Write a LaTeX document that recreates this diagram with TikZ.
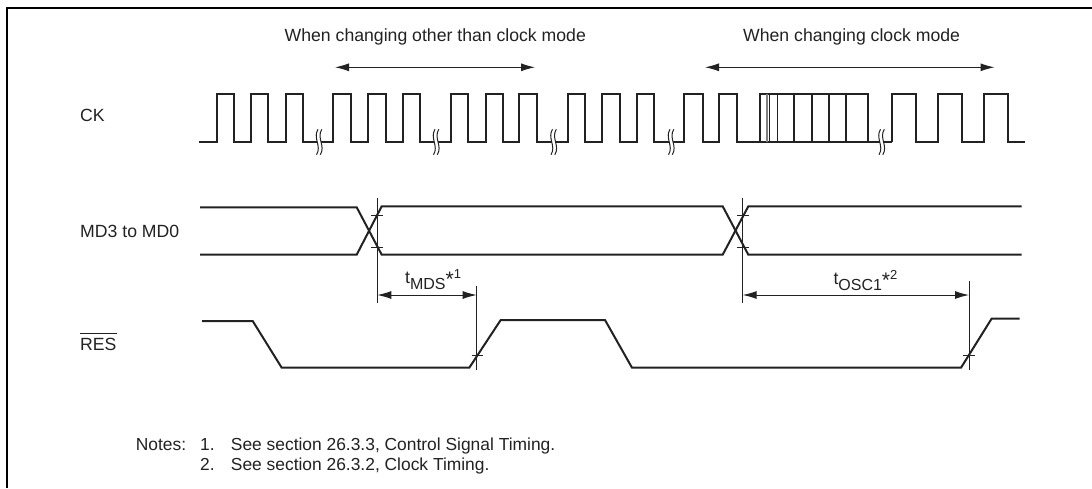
\documentclass[tikz,border=0pt]{standalone}
\usepackage{fontspec}
\setmainfont{Liberation Sans}
\usetikzlibrary{arrows.meta}
\definecolor{ink}{HTML}{222222}
\newcommand{\brkmark}[2]{%
  \fill[white] (#1+1,#2-12.7) .. controls (#1-4.5,#2-4) and (#1+5,#2+4) .. (#1-0.5,#2+12.7) -- ++(3.8,0) .. controls (#1+8.8,#2+4) and (#1-0.7,#2-4) .. (#1+4.8,#2-12.7) -- cycle;
  \draw[thinline] (#1+1,#2-12.7) .. controls (#1-4.5,#2-4) and (#1+5,#2+4) .. (#1-0.5,#2+12.7);
  \draw[thinline] (#1+4.8,#2-12.7) .. controls (#1-0.7,#2-4) and (#1+8.8,#2+4) .. (#1+3.3,#2+12.7);
}
\newcommand{\timelabel}[2]{t\raisebox{-6.3pt}{\fontsize{16}{17}\selectfont #1}\raisebox{-3pt}{\fontsize{21}{22}\selectfont *}\raisebox{4.5pt}{\fontsize{13}{14}\selectfont #2}}
\tikzset{
  x=1pt,y=-1pt,
  signal/.style={draw=ink,line width=2pt,line join=miter},
  thinline/.style={draw=ink,line width=1pt},
  dimline/.style={draw=ink,line width=1pt,{Latex[length=14pt,width=8pt]}-{Latex[length=14pt,width=8pt]}},
  label/.style={inner sep=0pt,anchor=base west,text=ink,font=\fontsize{17.65}{20}\selectfont},
  noteline/.style={label,font=\fontsize{17.4}{20}\selectfont},
}
\begin{document}
\begin{tikzpicture}
\useasboundingbox (0,0) rectangle (1092,488);
\fill[white] (0,0) rectangle (1092,488);
% frame (top and left only)
\draw[black,line width=2pt] (6.5,488) -- (6.5,7.5) -- (1092,7.5);

% headings
\node[label] (h1) at (284.5,41) {When changing other than clock mode};
\node[label] (h2) at (743,41) {When changing clock mode};
\coordinate (a1l) at (335,67.3); \coordinate (a1r) at (535,67.3);
\coordinate (a2l) at (705,67.3); \coordinate (a2r) at (994.5,67.3);
\draw[dimline] (a1l) -- (a1r);
\draw[dimline] (a2l) -- (a2r);

% signal labels
\node[label] (ck) at (80,121) {CK};
\node[label] (md) at (80,237) {MD3 to MD0};
\node[label] (res) at (80,350) {RES};
\draw[ink,line width=0.9pt] (res.north west |- 0,333.5) -- (res.north east |- 0,333.5);

% CK
\draw[signal] (199,142) -| (216.7,94) -| (233.7,142) -| (251,94) -| (268.3,142) -| (285.7,94) -| (303.3,142)
  -| (333.3,94) -| (351,142) -| (368.3,94) -| (385.7,142) -| (402.7,94) -| (420,142)
  -| (450.7,94) -| (468.3,142) -| (485.7,94) -| (502.7,142) -| (519.3,94) -| (537.3,142)
  -| (567.7,94) -| (585.3,142) -| (602.3,94) -| (620,142) -| (636.7,94) -| (654.3,142)
  -| (684.3,94) -| (702.7,142) -| (719.3,94) -| (737.3,142) -| (759.5,94) -- (868.3,94) |- (892.3,142);
\draw[signal] (892.3,142) |- (915.7,94) |- (938.3,142) |- (961.7,94) |- (984.3,142) |- (1007.7,94) |- (1025,142);
\draw[signal] (759.5,142) -- (868.3,142);
\foreach \vx/\vc in {767/gray,769.5/ink,777.5/ink,794.3/ink,811.7/ink,829.3/ink,846.3/ink}
  \draw[line width=1.8pt,draw=\vc] (\vx,94) -- (\vx,142);
\brkmark{317}{142}
\brkmark{434}{142}
\brkmark{551.5}{142}
\brkmark{669}{142}
\brkmark{879.5}{142}

% MD3 to MD0
\draw[signal] (200,207.3) -- (356.7,207.3) -- (381.7,254.7) -- (722.7,254.7) -- (748.3,206.3) -- (1021.7,206.3);
\draw[signal] (200,254.7) -- (356.7,254.7) -- (381.7,206.3) -- (722.7,206.3) -- (748.3,254.7) -- (1021.7,254.7);

% RES
\draw[signal] (202,321) -- (252.7,321) -- (281.7,367.7) -- (469.3,367.7) -- (500.7,320) -- (605,320) -- (632,367.7) -- (961,367.7) -- (991.7,318.5) -- (1019.5,318.5);

% timing verticals and ticks
\coordinate (v1t) at (377.3,198); \coordinate (v1b) at (377.3,303);
\coordinate (v2t) at (476.7,286); \coordinate (v2b) at (476.7,370);
\coordinate (v3t) at (742.7,198); \coordinate (v3b) at (742.7,303);
\coordinate (v4t) at (969,281);   \coordinate (v4b) at (969,370);
\draw[thinline] (v1t) -- (v1b);
\draw[thinline] (v2t) -- (v2b);
\draw[thinline] (v3t) -- (v3b);
\draw[thinline] (v4t) -- (v4b);
\draw[thinline] (371,215) -- (383,215) (371,247.5) -- (383,247.5);
\draw[thinline] (737,215) -- (749,215) (737,247.5) -- (749,247.5);
\draw[thinline] (471.5,355) -- (482.5,355);
\draw[thinline] (963,355) -- (975,355);
\coordinate (d1l) at (377.3,295); \coordinate (d1r) at (476.7,295);
\coordinate (d2l) at (742.7,295); \coordinate (d2r) at (969,295);
\draw[dimline] (d1l) -- (d1r);
\draw[dimline] (d2l) -- (d2r);
\node[label] (tm) at (405,283) {\timelabel{MDS}{1}};
\node[label] (to) at (833.3,284) {\timelabel{OSC1}{2}};

% notes
\node[noteline] (n0) at (135.7,450) {Notes:};
\node[noteline] (n1) at (200,450) {1.};
\node[noteline] (n1t) at (230.7,450) {See section 26.3.3, Control Signal Timing.};
\node[noteline] (n2) at (200,470.7) {2.};
\node[noteline] (n2t) at (230.7,470.7) {See section 26.3.2, Clock Timing.};
\end{tikzpicture}
\end{document}
